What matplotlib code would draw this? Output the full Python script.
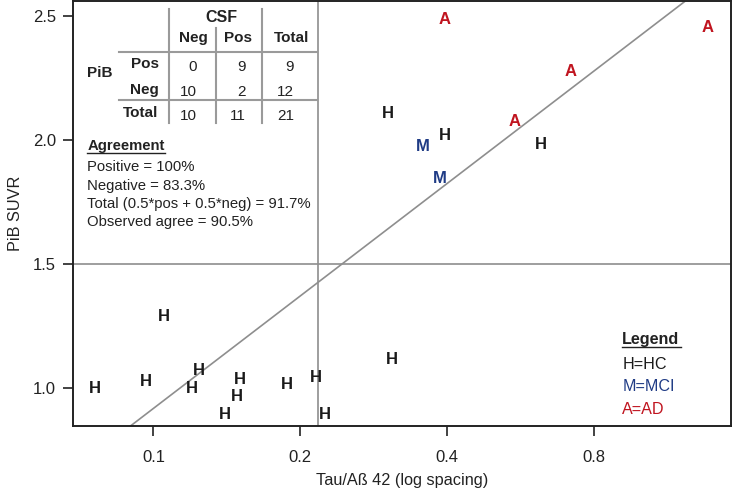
import matplotlib
matplotlib.use('Agg')
import matplotlib.pyplot as plt
import numpy as np
from matplotlib.lines import Line2D

plt.rcParams['font.family'] = ['Liberation Sans', 'DejaVu Sans']

# ---------------- data ----------------
tau_ab42 = [0.1048, 0.0757, 0.0965, 0.124, 0.1199, 0.1503, 0.1482, 0.1398,
            0.1873, 0.2150, 0.2248, 0.308, 0.303, 0.396, 0.622,
            0.3565, 0.387,
            0.551, 0.395, 1.365, 0.717]
pib_suvr = [1.295, 1.006, 1.033, 1.078, 1.006, 1.043, 0.972, 0.902,
            1.023, 1.051, 0.899, 1.121, 2.114, 2.024, 1.987,
            1.980, 1.852,
            2.081, 2.490, 2.459, 2.282]
group = ['H'] * 15 + ['M'] * 2 + ['A'] * 4

tau_cutoff = 0.217
pib_cutoff = 1.5
fit_intercept = 2.424   # PiB = a + b*log10(tau)
fit_slope = 1.505

x_ticks = [0.1, 0.2, 0.4, 0.8]
x_tick_labels = ['0.1', '0.2', '0.4', '0.8']
y_ticks = [1.0, 1.5, 2.0, 2.5]
y_tick_labels = ['1.0', '1.5', '2.0', '2.5']

table_col_labels = ['Neg', 'Pos', 'Total']
table_row_labels = ['Pos', 'Neg', 'Total']
table_counts = [[0, 9, 9], [10, 2, 12], [10, 11, 21]]

agreement_lines = ['Positive = 100%', 'Negative = 83.3%',
                   'Total (0.5*pos + 0.5*neg) = 91.7%',
                   'Observed agree = 90.5%']

legend_labels = ['H=HC', 'M=MCI', 'A=AD']
group_keys = ['H', 'M', 'A']
group_colors = {'H': '#1a1a1a', 'M': '#1f3b85', 'A': '#c0141f'}

# ---------------- figure ----------------
W, H = 733, 495
fig = plt.figure(figsize=(W / 100, H / 100), dpi=100)
ax_l, ax_r, ax_t, ax_b = 72.7, 731.0, 1.0, 426.0
ax = fig.add_axes([ax_l / W, 1 - ax_b / H, (ax_r - ax_l) / W, (ax_b - ax_t) / H])

ax.set_xscale('log')
ax.set_xlim(0.0683, 1.527)
ax.set_ylim(0.848, 2.560)

grey = '#8e8e8e'
ax.axvline(tau_cutoff, color=grey, lw=1.2, zorder=1)
ax.axhline(pib_cutoff, color=grey, lw=1.2, zorder=1)
xs = np.geomspace(0.06, 1.6, 50)
ax.plot(xs, fit_intercept + fit_slope * np.log10(xs), color=grey, lw=1.2, zorder=1)

CAP = 0.729
fs_pt = 12
for x, y, g in zip(tau_ab42, pib_suvr, group):
    ax.annotate(g, (x, y), xytext=(0, -CAP * fs_pt / 2), textcoords='offset points',
                ha='center', va='baseline', fontsize=fs_pt, fontweight='bold',
                color=group_colors[g], zorder=3)

ax.set_xticks(x_ticks)
ax.set_xticklabels(x_tick_labels)
ax.xaxis.set_minor_locator(matplotlib.ticker.NullLocator())
ax.set_yticks(y_ticks)
ax.set_yticklabels(y_tick_labels)
ax.tick_params(axis='both', length=7, width=1.2, color='#222222', labelsize=12,
               labelcolor='#222222')
ax.tick_params(axis='x', pad=10)
ax.tick_params(axis='y', pad=5)
for s in ax.spines.values():
    s.set_linewidth(1.4)
    s.set_color('#222222')

ax.set_xlabel('Tau/Aß 42 (log spacing)', fontsize=11.7, color='#222222', labelpad=6)
ax.set_ylabel('PiB SUVR', fontsize=11.7, color='#222222', labelpad=7)

# ---------------- helpers in pixel space ----------------
def fx(px):
    return px / W

def fy(py):
    return 1 - py / H

def ptext(px, py_center, s, fs, **kw):
    # place text with its cap-height centre at pixel (px, py_center)
    py_base = py_center + CAP * fs * (100 / 72) / 2
    fig.text(fx(px), fy(py_base), s, fontsize=fs, va='baseline',
             transform=fig.transFigure, **kw)

def pline(x0, y0, x1, y1, **kw):
    fig.add_artist(Line2D([fx(x0), fx(x1)], [fy(y0), fy(y1)],
                          transform=fig.transFigure, **kw))

# ---------------- contingency table ----------------
tcol = '#9a9a9a'
pline(169.3, 9, 169.3, 123, color=tcol, lw=1.5)
pline(215.7, 28, 215.7, 123, color=tcol, lw=1.5)
pline(262.3, 9, 262.3, 123, color=tcol, lw=1.5)
pline(119.3, 52.3, 316.7, 52.3, color=tcol, lw=1.5)
pline(119.3, 100, 316.7, 100, color=tcol, lw=1.5)

tfs = 11
ptext(221.7, 15.7, 'CSF', 11.5, ha='center', fontweight='bold', color='#222222')
for lab, cx in zip(table_col_labels, [193.3, 237.7, 291.7]):
    ptext(cx, 36, lab, tfs, ha='center', fontweight='bold', color='#222222')
ptext(100, 71.7, 'PiB', tfs, ha='center', fontweight='bold', color='#222222')
for lab, cy in zip(table_row_labels, [62.7, 88.3, 111.7]):
    ptext(158.5, cy, lab, tfs, ha='right', fontweight='bold', color='#222222')
for row, cy in zip(table_counts, [65.7, 90, 114.3]):
    for val, rx in zip(row, [196.7, 245.5, 294]):
        ptext(rx, cy, str(val), tfs, ha='right', color='#222222')

# ---------------- agreement block ----------------
afs = 10.7
ptext(87.3, 145, 'Agreement', afs, ha='left', fontweight='bold', color='#222222')
pline(87.3, 153, 165, 153, color='#222222', lw=1.0)
for i, s in enumerate(agreement_lines):
    ptext(87.3, 165.7 + i * 18.4, s, afs, ha='left', color='#222222')

# ---------------- legend ----------------
lfs = 11.6
ptext(622.3, 338.3, 'Legend', lfs, ha='left', fontweight='bold', color='#222222')
pline(622.3, 347, 680.5, 347, color='#222222', lw=1.0)
for i, (lab, g) in enumerate(zip(legend_labels, group_keys)):
    ptext(622.3, 362.7 + i * 22.8, lab, lfs, ha='left', color=group_colors[g])

fig.savefig('out.png', dpi=100)
